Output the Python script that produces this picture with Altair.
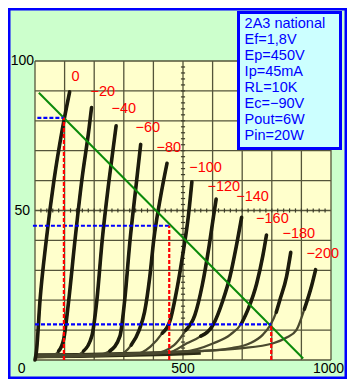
import altair as alt
import pandas as pd

# ---------------- data ----------------
bias_labels = ["0", "−20", "−40", "−60", "−80", "−100", "−120", "−140", "−160", "−180", "−200"]

# plate voltage (V) / plate current (mA) points along each plate curve
ep_0 = [0, 5, 17, 38, 64, 92, 117]
ip_0 = [0, 3, 20, 40, 60, 77, 89.7]
ep_20 = [0, 55, 80, 97, 114, 135, 158, 182, 191]
ip_20 = [1, 1.3, 3, 7, 20, 40, 60, 77, 84.4]
ep_40 = [0, 135, 164, 192, 209, 227, 250, 274]
ip_40 = [1, 1.5, 3, 8, 20, 40, 60, 78.3]
ep_60 = [0, 210, 253, 287, 303, 321, 340, 357]
ip_60 = [1, 1.6, 3, 8, 20, 40, 57, 72.1]
ep_80 = [0, 280, 325, 352, 370, 388, 401, 425, 446]
ip_80 = [1.1, 1.8, 5, 10, 16, 28, 40, 55, 65.8]
ep_100 = [0, 340, 390, 430, 457, 480, 502, 518, 530]
ip_100 = [1.1, 2, 4.5, 9, 13.4, 24, 37, 48, 59.6]
ep_120 = [0, 400, 470, 510, 540, 565, 588, 603, 612]
ip_120 = [1.2, 2.2, 5, 10, 15, 25, 38, 48, 53.8]
ep_140 = [0, 450, 513, 560, 603, 635, 659, 680, 698]
ip_140 = [1.2, 2.5, 5.6, 8, 12, 20, 28, 38, 47.7]
ep_160 = [0, 500, 603, 660, 698, 720, 749, 770, 782]
ip_160 = [1.3, 2.8, 5.6, 8.5, 12.3, 17, 25.6, 35, 41.8]
ep_180 = [0, 560, 659, 726, 770, 794, 815, 827, 850, 864]
ip_180 = [1.4, 3, 3.9, 5.6, 8.5, 11.5, 16, 20, 28, 36]
ep_200 = [0, 600, 693, 805, 850, 883, 910, 935, 948]
ip_200 = [1.5, 3.2, 3.9, 5.6, 7.5, 10, 17, 25, 30.2]

curves_ep = [ep_0, ep_20, ep_40, ep_60, ep_80, ep_100, ep_120, ep_140, ep_160, ep_180, ep_200]
curves_ip = [ip_0, ip_20, ip_40, ip_60, ip_80, ip_100, ip_120, ip_140, ip_160, ip_180, ip_200]

# current (mA) above which each trace is drawn dark and heavy in the scan
heavy_from_ip = [0, 3, 3, 3, 5, 5, 8, 8, 10, 15, 15]

# thick trace band along the bottom where the curves merge
band_ep = [0, 150, 300, 450, 560]
band_ip = [1.4, 1.5, 1.8, 2.2, 2.6]

# curve label anchors (V, mA)
label_ep = [137, 229, 300, 381, 452, 576, 638, 735, 802, 891, 972]
label_ip = [94.7, 89.7, 83.8, 77.7, 70.8, 64.1, 58, 54.4, 47, 42, 35.3]

# load line (10K) end points
load_ep = [13, 906]
load_ip = [89.4, 0.5]

# operating / swing points
op_ep = [97.6, 453.5, 798]
op_ip = [81.0, 44.9, 11.9]
op_start_ep = [8, -7, 0]

# grid and axis labels
grid_x = list(range(0, 1001, 100))
grid_y = list(range(0, 101, 10))
tick_x = list(range(20, 1000, 20))
tick_y = list(range(2, 100, 2))
x_tick_labels = [500, 1000]
y_tick_labels = [50, 100]

info_lines = ["2A3 national", "Ef=1,8V", "Ep=450V", "Ip=45mA", "RL=10K", "Ec=−90V", "Pout=6W", "Pin=20W"]

# ---------------- layout ----------------
TOTW, TOTH = 339, 371
PL, PT, W, H = 27, 53, 296, 299
FONT = "Liberation Sans"
xs = alt.Scale(domain=[0, 1000], nice=False, zero=False)
ys = alt.Scale(domain=[0, 100], nice=False, zero=False)

rows = []
for lab, eps, ips, thr in zip(bias_labels, curves_ep, curves_ip, heavy_from_ip):
    for k, (e, i) in enumerate(zip(eps, ips)):
        rows.append({"bias": lab, "ep": e, "ip": i, "k": k, "heavy": i >= thr})
curve_df = pd.DataFrame(rows)
upper_df = curve_df[curve_df["heavy"]].copy()

gridx_df = pd.DataFrame({"v": grid_x})
gridy_df = pd.DataFrame({"i": grid_y})
tickx_df = pd.DataFrame({"v": tick_x, "a": [49.3] * len(tick_x), "b": [50.7] * len(tick_x)})
ticky_df = pd.DataFrame({"i": tick_y, "a": [493] * len(tick_y), "b": [507] * len(tick_y)})

grid_col = "#55553a"

gx = alt.Chart(gridx_df).mark_rule(color=grid_col, strokeWidth=1.3).encode(
    x=alt.X("v:Q", scale=xs, axis=None))
gy = alt.Chart(gridy_df).mark_rule(color=grid_col, strokeWidth=1.3).encode(
    y=alt.Y("i:Q", scale=ys, axis=None))
tkx = alt.Chart(tickx_df).mark_rule(color="#3c3c28", strokeWidth=1.2).encode(
    x=alt.X("v:Q", scale=xs), y=alt.Y("a:Q", scale=ys), y2="b:Q")
tky = alt.Chart(ticky_df).mark_rule(color="#3c3c28", strokeWidth=1.2).encode(
    y=alt.Y("i:Q", scale=ys), x=alt.X("a:Q", scale=xs), x2="b:Q")

band_df = pd.DataFrame({"ep": band_ep, "ip": band_ip})
band = alt.Chart(band_df).mark_line(color="#2c2b16", strokeWidth=5, interpolate="monotone").encode(
    x=alt.X("ep:Q", scale=xs), y=alt.Y("ip:Q", scale=ys))

curves_lo = alt.Chart(curve_df).mark_line(color="#4a492f", strokeWidth=2.3, interpolate="monotone").encode(
    x=alt.X("ep:Q", scale=xs), y=alt.Y("ip:Q", scale=ys),
    detail="bias:N", order="k:Q")
curves_hi = alt.Chart(upper_df).mark_line(color="#1c1b0c", strokeWidth=3.6, interpolate="monotone",
                                          strokeCap="round").encode(
    x=alt.X("ep:Q", scale=xs), y=alt.Y("ip:Q", scale=ys),
    detail="bias:N", order="k:Q")

load_df = pd.DataFrame({"ep": load_ep, "ip": load_ip})
load = alt.Chart(load_df).mark_line(color="#0a8a0a", strokeWidth=2).encode(
    x=alt.X("ep:Q", scale=xs), y=alt.Y("ip:Q", scale=ys))

op_df = pd.DataFrame({"ep": op_ep, "ip": op_ip, "e0": op_start_ep, "zero": [0, 0, 0]})
blue = alt.Chart(op_df).mark_rule(color="#0000ff", strokeWidth=2.2, strokeDash=[4, 2]).encode(
    x=alt.X("e0:Q", scale=xs), x2="ep:Q", y=alt.Y("ip:Q", scale=ys))
red = alt.Chart(op_df).mark_rule(color="#ff0000", strokeWidth=2.2, strokeDash=[4, 2]).encode(
    x=alt.X("ep:Q", scale=xs), y=alt.Y("zero:Q", scale=ys), y2="ip:Q")

lab_df = pd.DataFrame({"t": bias_labels, "ep": label_ep, "ip": label_ip})
labels = alt.Chart(lab_df).mark_text(color="#ff0000", font=FONT, fontSize=14.5, align="center",
                                     baseline="middle").encode(
    x=alt.X("ep:Q", scale=xs), y=alt.Y("ip:Q", scale=ys), text="t:N")

xl_df = pd.DataFrame({"v": x_tick_labels, "t": [str(v) for v in x_tick_labels]})
xlab500 = alt.Chart(xl_df[xl_df["v"] == 500]).mark_text(
    color="#000000", font=FONT, fontSize=14, align="center", baseline="middle").encode(
    x=alt.X("v:Q", scale=xs), y=alt.value(308), text="t:N")
xlab1000 = alt.Chart(xl_df[xl_df["v"] == 1000]).mark_text(
    color="#000000", font=FONT, fontSize=14, align="center", baseline="middle", dx=-2.5).encode(
    x=alt.X("v:Q", scale=xs), y=alt.value(308), text="t:N")
yl_df = pd.DataFrame({"i": y_tick_labels, "t": [str(v) for v in y_tick_labels]})
ylab = alt.Chart(yl_df).mark_text(color="#000000", font=FONT, fontSize=14, align="center",
                                  baseline="middle").encode(
    y=alt.Y("i:Q", scale=ys), x=alt.value(-12.7), text="t:N")
zlab = alt.Chart(pd.DataFrame({"t": ["0"]})).mark_text(color="#000000", font=FONT, fontSize=14,
                                                       align="center", baseline="middle").encode(
    x=alt.value(-13.3), y=alt.value(308), text="t:N")

box = alt.Chart(pd.DataFrame({"a": [0]})).mark_rect(fill="#ccffff", stroke="#0000ff", strokeWidth=3).encode(
    x=alt.value(203.5), x2=alt.value(305.5), y=alt.value(-48.5), y2=alt.value(87.5))
box_texts = []
for n, line in enumerate(info_lines):
    box_texts.append(
        alt.Chart(pd.DataFrame({"t": [line]})).mark_text(
            color="#0000ff", font=FONT, fontSize=14.5, align="left", baseline="middle").encode(
            x=alt.value(209.6), y=alt.value(-36.7 + 15.97 * n), text="t:N"))

frame = alt.Chart(pd.DataFrame({"a": [0]})).mark_rect(fill="transparent", stroke="#0000ff", strokeWidth=2.5).encode(
    x=alt.value(-PL + 1.25), x2=alt.value(TOTW - PL - 1.25), y=alt.value(-PT + 1.25), y2=alt.value(TOTH - PT - 1.25))

chart = alt.layer(gx, gy, tkx, tky, band, curves_lo, curves_hi, load, blue, red, labels,
                  xlab500, xlab1000, ylab, zlab, box, *box_texts, frame).properties(
    width=W, height=H, autosize="none",
    padding={"left": PL, "top": PT, "right": TOTW - PL - W, "bottom": TOTH - PT - H},
    background="#ccffcc",
).configure_view(fill="#ffffcc", strokeWidth=0)

chart.save("out.html", embed_options={"renderer": "svg", "actions": False})
